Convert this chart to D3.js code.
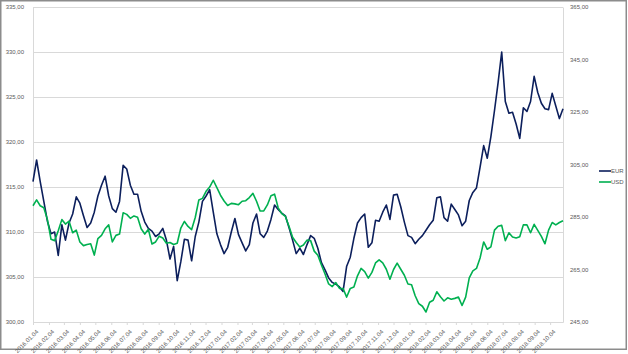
<!DOCTYPE html>
<html>
<head>
<meta charset="utf-8">
<script src="https://cdn.jsdelivr.net/npm/d3@7"></script>
<style>
  body { margin: 0; background: #fff; }
  text { font-family: "Liberation Sans", Arial, sans-serif; fill: #595959; }
</style>
</head>
<body>
<script>
// weekly readings, first week 2016.01.04
const startDate = "2016.01.04";

const eur = [
  315.6, 318.0, 315.6, 313.4, 311.2, 309.8, 310.0, 307.4, 310.8, 309.1,
  311.0, 312.0, 313.9, 313.2, 311.8, 310.5, 311.0, 312.2, 314.0, 315.2,
  316.2, 314.0, 312.6, 312.2, 313.4, 317.4, 317.0, 315.2, 314.2, 314.2,
  312.3, 311.1, 310.4, 310.1, 309.5, 309.8, 310.4, 309.1, 307.0, 308.4,
  304.6, 306.7, 309.2, 309.1, 306.8, 309.5, 311.1, 313.4, 314.0, 314.7,
  312.2, 309.8, 308.6, 307.6, 308.3, 310.0, 311.5, 309.7, 308.8, 307.9,
  308.6, 311.0, 312.0, 309.8, 309.4, 310.1, 311.4, 313.0, 312.5, 312.1,
  311.8, 310.5, 309.1, 307.6, 308.2, 307.5, 308.6, 309.6, 309.3, 308.2,
  306.6, 305.8, 304.9, 304.4, 304.2, 303.9, 303.4, 306.2, 307.2, 309.3,
  311.0, 311.6, 312.0, 308.3, 308.8, 311.3, 311.2, 312.2, 313.0, 311.4,
  314.1, 314.2, 312.8, 311.1, 309.6, 309.4, 308.7, 309.2, 309.6, 310.2,
  310.8, 311.3, 313.8, 313.9, 311.6, 311.2, 313.1, 312.5, 311.9, 310.7,
  311.2, 313.5, 314.4, 314.9, 317.2, 319.6, 318.2, 320.6, 323.5, 326.6,
  330.0, 324.5, 323.2, 323.3, 322.0, 320.4, 323.8, 323.4, 324.5, 327.3,
  325.5, 324.3, 323.7, 323.6, 325.4, 324.0, 322.6, 323.7
];

const usd = [
  289.3, 291.5, 289.3, 288.5, 284.0, 276.5, 276.0, 279.8, 284.0, 282.3,
  283.4, 279.0, 280.0, 275.5, 274.1, 274.5, 274.8, 270.5, 276.8, 278.0,
  280.5, 282.0, 275.5, 278.0, 278.5, 286.6, 286.0, 284.5, 285.4, 284.9,
  280.5, 278.5, 280.3, 274.7, 275.5, 277.7, 277.0, 275.0, 275.3, 274.5,
  275.0, 280.8, 283.3, 281.4, 280.2, 284.8, 291.5, 292.1, 294.8, 296.4,
  299.0, 296.2, 293.3, 291.1, 289.4, 290.2, 290.0, 289.7, 291.0, 291.2,
  292.4, 294.0, 291.0, 287.3, 287.3, 289.6, 293.1, 293.7, 288.5, 286.3,
  285.2, 281.5, 277.3, 275.3, 273.6, 274.3, 276.2, 276.0, 272.0, 270.4,
  266.7, 263.3, 259.5, 258.5, 260.0, 257.8, 257.7, 254.5, 257.8, 258.3,
  262.6, 265.4, 264.2, 261.7, 263.9, 267.5, 268.7, 267.5, 265.1, 261.3,
  265.0, 267.4, 265.1, 262.8, 259.5, 259.2, 255.0, 252.0, 251.0, 248.8,
  252.5, 253.3, 256.5, 254.6, 253.0, 254.2, 253.7, 254.0, 254.5, 251.3,
  254.5, 261.8, 264.5, 265.4, 269.4, 275.5, 272.7, 273.6, 280.0, 281.5,
  281.8, 276.0, 279.0, 277.4, 277.0, 277.5, 282.0, 282.0, 279.0, 282.2,
  279.9, 277.6, 274.8, 280.0, 282.9, 282.0, 282.9, 283.6
];

const xTickLabels = [
  "2016.01.04","2016.02.04","2016.03.04","2016.04.04","2016.05.04","2016.06.04",
  "2016.07.04","2016.08.04","2016.09.04","2016.10.04","2016.11.04","2016.12.04",
  "2017.01.04","2017.02.04","2017.03.04","2017.04.04","2017.05.04","2017.06.04",
  "2017.07.04","2017.08.04","2017.09.04","2017.10.04","2017.11.04","2017.12.04",
  "2018.01.04","2018.02.04","2018.03.04","2018.04.04","2018.05.04","2018.06.04",
  "2018.07.04","2018.08.04","2018.09.04","2018.10.04"
];
const leftTicks = [300, 305, 310, 315, 320, 325, 330, 335];
const rightTicks = [245, 265, 285, 305, 325, 345, 365];
const seriesNames = ["EUR", "USD"];
const seriesColors = ["#0c1f5c", "#00b050"];

const width = 628, height = 354;
const plot = {left: 33, right: 563, top: 7, bottom: 322};
const parse = d3.timeParse("%Y.%m.%d");
const start = parse(startDate);
const dates = eur.map((d, i) => d3.timeDay.offset(start, 7 * i));
const fmt = v => v.toFixed(2).replace(".", ",");

const svg = d3.select("body").append("svg")
  .attr("width", width)
  .attr("height", height);

svg.append("rect")
  .attr("x", 0.75).attr("y", 0.75)
  .attr("width", 625.5).attr("height", 348.5)
  .attr("fill", "#fff")
  .attr("stroke", "#8c8c8c")
  .attr("stroke-width", 1.5);

const x = d3.scaleTime()
  .domain([start, dates[dates.length - 1]])
  .range([plot.left, plot.right]);
const yL = d3.scaleLinear().domain([300, 335]).range([plot.bottom, plot.top]);
const yR = d3.scaleLinear().domain([245, 365]).range([plot.bottom, plot.top]);

// gridlines
svg.append("g")
  .selectAll("line")
  .data(leftTicks)
  .enter().append("line")
  .attr("x1", plot.left).attr("x2", plot.right)
  .attr("y1", d => Math.round(yL(d)) + 0.5)
  .attr("y2", d => Math.round(yL(d)) + 0.5)
  .attr("stroke", "#d9d9d9");

// axes
const axL = svg.append("g")
  .attr("transform", `translate(${plot.left},0)`)
  .call(d3.axisLeft(yL).tickValues(leftTicks).tickFormat(fmt).tickSize(0).tickPadding(9));
const axR = svg.append("g")
  .attr("transform", `translate(${plot.right},0)`)
  .call(d3.axisRight(yR).tickValues(rightTicks).tickFormat(fmt).tickSize(0).tickPadding(7));
const axB = svg.append("g")
  .attr("transform", `translate(0,${plot.bottom})`)
  .call(d3.axisBottom(x).tickValues(xTickLabels.map(parse)).tickFormat(d3.timeFormat("%Y.%m.%d")).tickSize(3).tickSizeOuter(0));

[axL, axR, axB].forEach(a => {
  a.select(".domain").attr("stroke", "#d9d9d9");
  a.selectAll(".tick line").attr("stroke", "#d9d9d9");
  a.selectAll("text").style("font-size", "6px").attr("fill", "#595959");
});

axB.selectAll("text")
  .attr("text-anchor", "end")
  .attr("dx", 0).attr("dy", 0)
  .attr("transform", "translate(1,6) rotate(-45)");

// lines
const series = [eur, usd];
const scales = [yL, yR];
series.forEach((vals, k) => {
  const line = d3.line()
    .x((d, i) => x(dates[i]))
    .y(d => scales[k](d));
  svg.append("path")
    .datum(vals)
    .attr("d", line)
    .attr("fill", "none")
    .attr("stroke", seriesColors[k])
    .attr("stroke-width", 1.6)
    .attr("stroke-linejoin", "round");
});

// legend
const legend = svg.append("g").attr("transform", "translate(599,171)")
  .selectAll("g").data(seriesNames).enter().append("g")
  .attr("transform", (d, i) => `translate(0,${i * 11})`);
legend.append("line")
  .attr("x1", 0).attr("x2", 12)
  .attr("stroke", (d, i) => seriesColors[i])
  .attr("stroke-width", 1.6);
legend.append("text")
  .attr("x", 12).attr("y", 2)
  .style("font-size", "6px")
  .text(d => d);
</script>
</body>
</html>
